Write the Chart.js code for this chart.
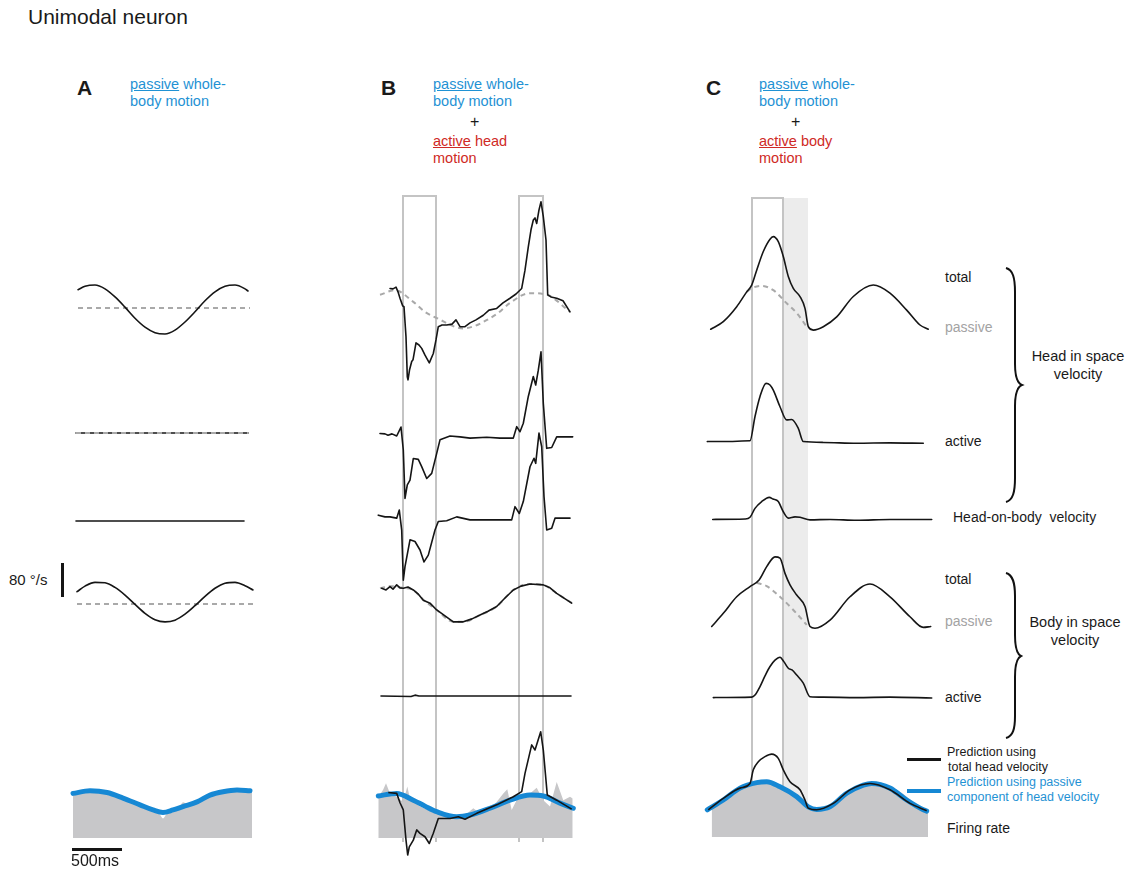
<!DOCTYPE html>
<html><head><meta charset="utf-8">
<script src="https://cdn.jsdelivr.net/npm/chart.js@4.4.1/dist/chart.umd.min.js"></script>
<style>
html,body{margin:0;padding:0;background:#fff;}
body{width:1130px;height:872px;position:relative;overflow:hidden;font-family:Arial,"Liberation Sans",Helvetica,sans-serif;color:#1a1a1a;}
.t{position:absolute;white-space:pre;line-height:1;}
.t u{text-decoration:underline;text-underline-offset:1px;}
canvas{position:absolute;}
.bar{position:absolute;}
</style></head><body>
<svg width="1130" height="872" style="position:absolute;left:0;top:0">
<path d="M1006,268 C1013,270 1015,278 1015,292 L1015,364 C1015,377 1017,383 1022,385 C1017,387 1015,393 1015,406 L1015,478 C1015,492 1013,500 1006,502" fill="none" stroke="#111" stroke-width="2"/>
<path d="M1006,573 C1013,575 1015,583 1015,596 L1015,635 C1015,648 1017,654 1021,656 C1017,658 1015,664 1015,677 L1015,716 C1015,729 1013,736 1006,738" fill="none" stroke="#111" stroke-width="2"/>
</svg>
<script>
// ---------------- DATA: [time (ms), value] ----------------
// velocities in deg/s (relative to each trace's zero), firing rate in sp/s-equivalent
// Panel A: passive whole-body motion
const aHeadTotal = [[80,43],[150,51],[250,54],[350,45],[450,26],[550,2],[650,-24],[750,-45],[850,-58],[950,-61],[1050,-52],[1150,-33],[1250,-9],[1350,17],[1450,38],[1550,51],[1650,54],[1750,45],[1780,40]];
const aHeadPassive = [[80,0],[1800,0]];
const aHeadActive = [[60,0],[1780,0]];
const aHeadActivePassive = [[60,0],[1780,0]];
const aHeadOnBody = [[60,0],[1740,0]];
const aBodyTotal = [[70,29],[150,42],[250,51],[350,50],[450,39],[550,21],[650,-1],[750,-22],[850,-37],[950,-42],[1050,-38],[1150,-24],[1250,-4],[1350,18],[1450,37],[1550,49],[1650,51],[1750,43],[1830,33]];
const aBodyPassive = [[70,0],[1830,0]];
const aFiring = [[30,101],[200,109],[370,104],[530,92],[700,75],[830,63],[900,55],[930,46],[960,55],[1030,64],[1100,75],[1130,84],[1170,80],[1270,83],[1400,99],[1530,107],[1670,111],[1820,109]];
const aPredPassive = [[30,105],[200,111],[370,107],[530,94],[700,78],[830,66],[930,60],[1030,66],[1130,74],[1270,85],[1400,101],[1530,109],[1670,113],[1800,111]];

// Panel B: passive whole-body + active head motion
const bHeadPassive = [[20,31],[170,42],[350,15],[470,-9],[590,-24],[850,-48],[970,-42],[1090,-28],[1200,-12],[1320,12],[1520,35],[1690,31],[1920,-9]];
const bHeadTotal = [[120,46],[150,45],[180,49],[200,38],[220,23],[247,5],[260,3],[280,-68],[293,-162],[300,-169],[315,-146],[337,-126],[350,-122],[380,-82],[410,-87],[437,-95],[470,-111],[513,-129],[553,-107],[580,-75],[603,-44],[640,-40],[687,-40],[740,-38],[780,-28],[820,-44],[870,-44],[920,-35],[980,-28],[1053,-17],[1110,-5],[1187,-1],[1250,12],[1320,23],[1380,33],[1437,46],[1470,89],[1503,144],[1530,184],[1553,207],[1570,212],[1587,199],[1610,231],[1630,250],[1653,215],[1680,160],[1697,31],[1730,26],[1787,23],[1850,17],[1920,-9]];
const bHeadActive = [[20,6],[70,5],[100,2],[140,5],[187,0],[230,21],[253,-33],[270,-147],[293,-115],[320,-104],[353,-53],[403,-55],[437,-72],[487,-100],[537,-88],[587,-41],[620,-9],[720,0],[820,-2],[920,-5],[1087,-3],[1220,-5],[1353,-5],[1387,22],[1420,10],[1453,30],[1503,93],[1553,140],[1577,120],[1603,155],[1630,198],[1653,77],[1687,-29],[1737,-27],[1787,-2],[1947,-2]];
const bHeadOnBody = [[3,9],[70,5],[120,5],[187,2],[213,21],[237,-26],[253,-144],[270,-112],[320,-49],[370,-53],[420,-73],[460,-101],[503,-85],[570,-26],[603,-6],[687,-4],[787,5],[920,-2],[1087,-2],[1337,-2],[1370,29],[1413,13],[1453,41],[1520,123],[1560,143],[1577,131],[1610,202],[1637,170],[1660,53],[1687,-26],[1737,-22],[1770,2],[1920,2]];
const bBodyTotal = [[37,37],[80,33],[120,41],[150,35],[187,45],[220,38],[253,37],[300,40],[353,33],[400,24],[453,9],[520,2],[587,-14],[670,-28],[753,-42],[853,-42],[940,-35],[1020,-26],[1100,-17],[1187,-6],[1270,14],[1353,33],[1430,42],[1520,47],[1653,45],[1720,38],[1787,25],[1860,14],[1937,2]];
const bBodyPassive = [[20,37],[120,42],[250,38],[353,33],[453,10],[587,-14],[753,-42],[853,-42],[1020,-26],[1187,-6],[1353,33],[1520,47],[1653,45],[1787,25],[1940,2]];
const bBodyActive = [[30,0],[330,-1],[370,2],[410,0],[1930,0]];
const bFiring = [[3,97],[50,113],[80,129],[120,105],[187,97],[253,85],[293,121],[320,93],[420,74],[587,58],[753,50],[853,50],[953,70],[1020,58],[1120,66],[1200,89],[1253,105],[1293,115],[1337,66],[1403,97],[1520,105],[1587,118],[1653,89],[1720,74],[1787,132],[1853,89],[1920,97],[1947,93]];
const bPredPassive = [[3,99],[187,105],[353,89],[470,75],[587,62],[787,50],[920,54],[1120,70],[1320,89],[1520,101],[1653,99],[1820,82],[1953,70]];
const bPredTotal = [[103,107],[187,105],[220,83],[253,66],[280,-5],[297,-40],[313,-21],[353,-5],[387,19],[420,11],[470,3],[513,-13],[553,11],[603,46],[720,46],[803,50],[870,44],[987,58],[1187,78],[1353,97],[1437,109],[1470,152],[1537,219],[1570,207],[1627,250],[1653,207],[1693,101],[1787,89],[1937,68]];
const bWindows = [[250,580],[1410,1650]];

// Panel C: passive whole-body + active body motion
const cHeadTotal = [[57,-50],[183,-32],[317,3],[417,38],[467,54],[517,89],[583,133],[650,162],[683,168],[733,156],[783,121],[833,74],[883,46],[950,27],[1000,-1],[1033,-44],[1083,-52],[1183,-44],[1317,-21],[1483,27],[1683,54],[1850,35],[2017,-5],[2150,-40],[2233,-50]];
const cHeadPassive = [[417,38],[470,47],[567,52],[683,42],[817,11],[917,-12],[1017,-44]];
const cHeadActive = [[23,1],[450,3],[500,60],[550,107],[610,138],[650,134],[683,122],[750,83],[817,52],[867,53],[933,32],[983,1],[1183,-1],[1517,-3],[1850,-2],[2183,-3]];
const cHeadOnBody = [[77,-1],[400,0],[450,4],[500,25],[567,41],[643,51],[680,47],[733,41],[783,17],[833,2],[900,5],[950,4],[1050,-2],[1250,-1],[1517,-3],[1850,-1],[2267,-1]];
const cBodyTotal = [[67,-53],[183,-22],[317,17],[450,41],[543,57],[617,88],[700,111],[750,108],[800,72],[850,45],[917,21],[1000,-6],[1050,-53],[1100,-57],[1250,-38],[1450,17],[1650,47],[1850,17],[2050,-30],[2183,-55],[2257,-53]];
const cBodyPassive = [[517,50],[617,42],[750,17],[883,-14],[1017,-49]];
const cBodyActive = [[83,1],[467,2],[500,7],[550,27],[600,52],[650,74],[700,89],[750,96],[790,85],[833,70],[870,66],[917,54],[983,35],[1050,3],[1183,2],[1517,1],[1850,2],[2267,0]];
const cFiring = [[67,71],[350,115],[550,130],[783,115],[1017,83],[1083,64],[1350,91],[1650,128],[1917,111],[2183,64],[2230,59]];
const cPredPassive = [[23,64],[183,87],[350,115],[517,128],[617,130],[750,118],[917,95],[1033,71],[1117,65],[1250,71],[1417,103],[1583,122],[1667,126],[1850,115],[2017,87],[2183,64],[2217,61]];
const cPredTotal = [[33,64],[183,91],[350,115],[450,126],[483,158],[533,177],[600,189],[667,195],[733,185],[783,158],[850,130],[950,111],[1000,87],[1033,68],[1117,64],[1283,79],[1450,111],[1650,126],[1850,111],[2050,79],[2217,62]];
const cWindows = [[470,780]];
const cShade = [[780,1030]];

// ---------------- LAYOUT & STYLE ----------------
const MS_PER_PX = 10;          // 500 ms scale bar = 50 px
const UPP = 80 / 34;           // deg/s per pixel (80 deg/s scale bar = 34 px)
const TOP = 185, BOTTOM = 860;
const layout = {
  A: {origin:70, left:60, width:200, rows:{head:308, active:433, hob:521, body:604, bodyActive:696, firing:838}},
  B: {origin:378, left:368, width:215, rows:{head:308, active:436, hob:519, body:604, bodyActive:696, firing:838}, boxTop:196, boxBottom:842},
  C: {origin:705, left:695, width:245, rows:{head:308, active:442, hob:519, body:604, bodyActive:698, firing:837}, boxTop:198, boxBottom:836}
};
const BLACK = '#151515';
const styles = {
  total: {borderColor:BLACK, borderWidth:1.6, borderJoinStyle:'round', borderCapStyle:'round'},
  passive: {borderColor:'#a9a9a9', borderWidth:2, borderDash:[5,4]},
  firing: {borderWidth:0, borderColor:'rgba(0,0,0,0)', backgroundColor:'#c7c7c9'},
  predPassive: {borderColor:'#1688d4', borderWidth:5, borderJoinStyle:'round', borderCapStyle:'round'},
  predTotal: {borderColor:BLACK, borderWidth:1.6, borderJoinStyle:'round'}
};
const SMOOTH = {cubicInterpolationMode:'monotone'};

function rowOffset(rowPx){ return (BOTTOM - rowPx) * UPP; }
function series(pairs, rowPx, style, extra){
  const off = rowOffset(rowPx);
  const ds = Object.assign({data: pairs.map(p => ({x:p[0], y:p[1] + off})), pointRadius:0, fill:false, tension:0}, style, extra || {});
  if (style === styles.firing) ds.fill = {value: off};
  return ds;
}

function windowsPlugin(cfg, windows, shades){
  return {
    id:'win',
    beforeDatasetsDraw(chart){
      const {ctx, scales:{x, y}} = chart;
      const yt = y.getPixelForValue(rowOffset(cfg.boxTop));
      const yb = y.getPixelForValue(rowOffset(cfg.boxBottom));
      ctx.save();
      (shades || []).forEach(([a,b]) => {
        ctx.fillStyle = '#ececec';
        ctx.fillRect(x.getPixelForValue(a), yt, x.getPixelForValue(b) - x.getPixelForValue(a), yb - yt);
      });
      ctx.strokeStyle = '#c4c4c4'; ctx.lineWidth = 2;
      (windows || []).forEach(([a,b]) => {
        const xa = x.getPixelForValue(a), xb = x.getPixelForValue(b);
        ctx.beginPath();
        ctx.moveTo(xa, yb); ctx.lineTo(xa, yt); ctx.lineTo(xb, yt); ctx.lineTo(xb, yb);
        ctx.stroke();
      });
      ctx.restore();
    }
  };
}

function makePanel(cfg, backToFront, windows, shades){
  const h = BOTTOM - TOP;
  const cv = document.createElement('canvas');
  cv.width = cfg.width; cv.height = h;
  cv.style.left = cfg.left + 'px'; cv.style.top = TOP + 'px';
  cv.style.width = cfg.width + 'px'; cv.style.height = h + 'px';
  document.body.appendChild(cv);
  const xmin = (cfg.left - cfg.origin) * MS_PER_PX;
  const xmax = xmin + cfg.width * MS_PER_PX;
  const datasets = backToFront.slice().reverse();
  new Chart(cv, {
    type:'line',
    data:{datasets},
    options:{
      responsive:false, animation:false, devicePixelRatio:1,
      layout:{padding:0},
      scales:{
        x:{type:'linear', min:xmin, max:xmax, display:false},
        y:{type:'linear', min:0, max:h * UPP, display:false}
      },
      plugins:{legend:{display:false}, tooltip:{enabled:false}},
      elements:{point:{radius:0}},
      events:[]
    },
    plugins: windows || shades ? [windowsPlugin(cfg, windows, shades)] : []
  });
}

const A = layout.A, B = layout.B, C = layout.C;
makePanel(A, [
  series(aFiring, A.rows.firing, styles.firing, SMOOTH),
  series(aPredPassive, A.rows.firing, styles.predPassive, SMOOTH),
  series(aHeadPassive, A.rows.head, styles.passive),
  series(aHeadTotal, A.rows.head, styles.total, SMOOTH),
  series(aHeadActive, A.rows.active, styles.total),
  series(aHeadActivePassive, A.rows.active, styles.passive),
  series(aHeadOnBody, A.rows.hob, styles.total),
  series(aBodyPassive, A.rows.body, styles.passive),
  series(aBodyTotal, A.rows.body, styles.total, SMOOTH)
]);
makePanel(B, [
  series(bFiring, B.rows.firing, styles.firing),
  series(bPredPassive, B.rows.firing, styles.predPassive, SMOOTH),
  series(bPredTotal, B.rows.firing, styles.predTotal),
  series(bHeadPassive, B.rows.head, styles.passive, SMOOTH),
  series(bHeadTotal, B.rows.head, styles.total),
  series(bHeadActive, B.rows.active, styles.total),
  series(bHeadOnBody, B.rows.hob, styles.total),
  series(bBodyPassive, B.rows.body, styles.passive, SMOOTH),
  series(bBodyTotal, B.rows.body, styles.total),
  series(bBodyActive, B.rows.bodyActive, styles.total)
], bWindows, null);
makePanel(C, [
  series(cFiring, C.rows.firing, styles.firing, SMOOTH),
  series(cPredPassive, C.rows.firing, styles.predPassive, SMOOTH),
  series(cPredTotal, C.rows.firing, styles.predTotal, SMOOTH),
  series(cHeadPassive, C.rows.head, styles.passive, SMOOTH),
  series(cHeadTotal, C.rows.head, styles.total, SMOOTH),
  series(cHeadActive, C.rows.active, styles.total, SMOOTH),
  series(cHeadOnBody, C.rows.hob, styles.total, SMOOTH),
  series(cBodyPassive, C.rows.body, styles.passive, SMOOTH),
  series(cBodyTotal, C.rows.body, styles.total, SMOOTH),
  series(cBodyActive, C.rows.bodyActive, styles.total, SMOOTH)
], cWindows, cShade);

// ---------------- TEXT ----------------
const BLUE = '#1f92d4', RED = '#cf2a25', GREY = '#a3a3a3';
const labels = [
  ['Unimodal neuron', 28, 18, 21, '#1a1a1a'],
  ['A', 77, 89, 21, '#1a1a1a', 'bold'],
  ['B', 381, 89, 21, '#1a1a1a', 'bold'],
  ['C', 706, 89, 21, '#1a1a1a', 'bold'],
  ['<u>passive</u> whole-', 130, 85, 14.5, BLUE],
  ['body motion', 130, 102, 14.5, BLUE],
  ['<u>passive</u> whole-', 433, 85, 14.5, BLUE],
  ['body motion', 433, 102, 14.5, BLUE],
  ['+', 470, 123, 16, '#1a1a1a'],
  ['<u>active</u> head', 433, 142, 14.5, RED],
  ['motion', 433, 159, 14.5, RED],
  ['<u>passive</u> whole-', 759, 85, 14.5, BLUE],
  ['body motion', 759, 102, 14.5, BLUE],
  ['+', 791, 123, 16, '#1a1a1a'],
  ['<u>active</u> body', 759, 142, 14.5, RED],
  ['motion', 759, 159, 14.5, RED],
  ['total', 945, 278, 14, '#1a1a1a'],
  ['passive', 945, 328, 14, GREY],
  ['active', 945, 442, 14, '#1a1a1a'],
  ['Head-on-body  velocity', 953, 518, 14, '#1a1a1a'],
  ['total', 945, 580, 14, '#1a1a1a'],
  ['passive', 945, 622, 14, GREY],
  ['active', 945, 698, 14, '#1a1a1a'],
  ['Prediction using', 947, 753, 12.5, '#1a1a1a'],
  ['total head velocity', 948, 768, 12.5, '#1a1a1a'],
  ['Prediction using passive', 947, 783, 12.5, BLUE],
  ['component of head velocity', 947, 798, 12.5, BLUE],
  ['Firing rate', 947, 829, 14, '#1a1a1a'],
  ['80 °/s', 9, 580, 15, '#1a1a1a'],
  ['500ms', 71, 862, 16, '#1a1a1a']
];
const centered = [
  ['Head in space', 1078, 357, 14.5],
  ['velocity', 1078, 375, 14.5],
  ['Body in space', 1075, 623, 14.5],
  ['velocity', 1075, 641, 14.5]
];
function addText(html, x, cy, size, color, weight, center){
  const d = document.createElement('div');
  d.className = 't';
  d.innerHTML = html;
  d.style.left = x + 'px';
  d.style.top = (cy - 0.55 * size) + 'px';
  d.style.fontSize = size + 'px';
  d.style.color = color;
  if (weight) d.style.fontWeight = weight;
  if (center) d.style.transform = 'translateX(-50%)';
  document.body.appendChild(d);
}
labels.forEach(l => addText(l[0], l[1], l[2], l[3], l[4], l[5]));
centered.forEach(l => addText(l[0], l[1], l[2], l[3], '#1a1a1a', null, true));

// scale bars & legend swatches
function bar(left, top, w, h, color){
  const d = document.createElement('div');
  d.className = 'bar';
  Object.assign(d.style, {left:left+'px', top:top+'px', width:w+'px', height:h+'px', background:color});
  document.body.appendChild(d);
}
bar(61, 563, 3, 80 / UPP, BLACK);            // 80 deg/s
bar(72, 847.5, 500 / MS_PER_PX, 3, BLACK);    // 500 ms
bar(907, 757.5, 34, 3, BLACK);
bar(907, 789, 34, 3.5, '#1688d4');
</script>
</body></html>
